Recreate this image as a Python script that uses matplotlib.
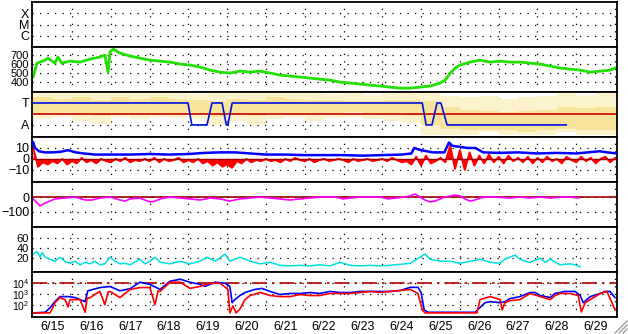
"""Stacked space weather summary, 6/15 - 6/29."""

import matplotlib

matplotlib.use("Agg")
import matplotlib.pyplot as plt
import numpy as np
from matplotlib.lines import Line2D
from matplotlib.ticker import FixedLocator, NullLocator

plt.rcParams["font.family"] = ["Liberation Sans", "DejaVu Sans"]
plt.rcParams["font.size"] = 9

# --- data (time in days since 6/15 00:00) ---------------------------------
day_labels = ["6/15", "6/16", "6/17", "6/18", "6/19", "6/20", "6/21", "6/22",
              "6/23", "6/24", "6/25", "6/26", "6/27", "6/28", "6/29"]

flare_labels = ["X", "M", "C"]

speed_t = [0.0, 0.10, 0.31, 0.38, 0.56, 0.64, 0.74, 0.95, 1.21, 1.47, 1.72,
           1.85, 1.93, 1.98, 2.06, 2.24, 2.50, 2.75, 3.01, 3.27, 3.53, 3.79,
           4.04, 4.30, 4.56, 4.82, 5.07, 5.33, 5.59, 5.85, 6.11, 6.36, 6.62,
           6.88, 7.14, 7.39, 7.65, 7.91, 8.17, 8.43, 8.68, 8.94, 9.20, 9.46,
           9.72, 9.97, 10.23, 10.49, 10.62, 10.75, 10.88, 11.00, 11.26, 11.52,
           11.78, 12.04, 12.29, 12.55, 12.81, 13.07, 13.33, 13.58, 13.84,
           14.10, 14.36, 14.62, 14.87, 15.00]
speed = [456, 611, 644, 667, 611, 678, 611, 633, 622, 656, 678, 700, 511, 733,
         767, 722, 689, 667, 644, 633, 622, 600, 589, 567, 533, 511, 500, 522,
         511, 522, 500, 478, 467, 456, 444, 433, 422, 400, 389, 378, 367, 356,
         344, 333, 333, 344, 356, 389, 422, 500, 556, 589, 622, 644, 622, 633,
         622, 622, 611, 600, 578, 556, 544, 533, 511, 522, 533, 556]

# toward/away sector: scatter spread (outer) and dense core per half day
sector_edges = [0.0, 0.5, 1.0, 1.5, 2.0, 2.5, 3.0, 3.5, 4.0, 4.5, 5.0, 5.5,
                6.0, 6.5, 7.0, 7.5, 8.0, 8.5, 9.0, 9.5, 10.0, 10.5, 11.0,
                11.5, 12.0, 12.5, 13.0, 13.5, 14.0, 14.5, 15.05]
sector_lo = [-0.5, -0.3, -0.6, -0.9, -0.3, -0.5, -0.3, -0.4, -0.5, -1.0,
             -0.6, -1.0, -0.5, -0.3, -0.6, -0.4, -0.3, -0.5, -0.6, -0.8,
             -1.9, -1.9, -1.9, -1.6, -1.9, -1.9, -1.9, -1.6, -1.9, -1.9]
sector_hi = [1.9, 1.9, 1.9, 1.9, 1.9, 1.9, 1.9, 1.9, 1.8, 1.9, 1.9, 1.9,
             1.9, 1.9, 1.9, 1.8, 1.9, 1.7, 1.9, 1.9, 1.9, 1.6, 1.5, 1.6,
             1.4, 1.5, 1.6, 1.9, 1.7, 1.9]
sector_core_lo = [0.0, 0.1, 0.0, -0.2, 0.1, 0.0, 0.1, 0.0, 0.0, -0.3, 0.0,
                  -0.2, 0.1, 0.1, 0.0, 0.1, 0.2, 0.1, 0.0, -0.2, -1.0, -1.4,
                  -1.5, -1.5, -1.5, -1.6, -1.5, -1.4, -1.5, -1.5]
sector_core_hi = [1.5, 1.4, 1.5, 1.3, 1.5, 1.4, 1.5, 1.4, 1.3, 1.2, 1.4, 1.3,
                  1.5, 1.4, 1.3, 1.3, 1.2, 1.2, 1.3, 1.3, 1.2, 0.6, 0.4, 0.3,
                  0.2, 0.3, 0.4, 0.6, 0.5, 0.6]
sector_t = [0.0, 3.99, 4.09, 4.48, 4.61, 4.87, 4.98, 5.02, 5.13, 10.03, 10.13,
            10.28, 10.41, 10.51, 10.67, 13.74]
sector = [1, 1, -1, -1, 1, 1, -1, -1, 1, 1, -1, -1, 1, 1, -1, -1]

bt_t = [0.0, 0.05, 0.15, 0.3, 0.5, 0.7, 0.9, 1.1, 1.3, 1.6, 2.0, 2.5, 3.0,
        3.5, 4.0, 4.4, 4.8, 5.2, 5.6, 6.0, 6.5, 7.0, 7.5, 8.0, 8.5, 9.0, 9.5,
        9.75, 9.82, 10.0, 10.3, 10.6, 10.72, 10.8, 11.0, 11.2, 11.4, 11.6,
        12.0, 12.5, 13.0, 13.5, 14.0, 14.3, 14.6, 14.8, 15.05]
bt = [15, 10, 7, 6, 6, 6.5, 8, 6, 5, 4, 4, 4, 4.5, 4, 4.5, 5.5, 6, 6, 5, 4,
      4, 3.5, 3.5, 3.5, 3, 3.5, 4, 5, 10, 8, 6, 6, 15, 12, 11, 10, 10, 6, 5.5,
      6, 5, 5.5, 5, 6, 7, 6, 5]

# Bz every 3 hours
bz = [10, -7, -3, -5, -2, -4, 0, -5,
      -2, -4, 1, -3, -1, -4, 0, -2,
      -3, 0, -2, 1, -3, -1, -2, 0,
      -2, 1, -3, 0, -2, -1, 1, -3,
      -1, -3, 0, -4, -2, -6, -3, -7,
      -5, -8, -2, -4, 0, -3, -1, -2,
      0, -2, -1, -3, 0, -2, 1, -1,
      -2, 0, -3, -1, 0, -2, -1, 0,
      -1, -3, 0, -2, -1, 0, -2, -1,
      0, -2, 1, -1, -3, -2, -5, 2,
      -6, 3, -4, -2, 1, -3, 12, -9,
      8, -10, 6, -6, 3, -4, 4, -3,
      2, -4, 3, -2, 1, -3, 2, -4,
      1, -3, 2, -2, 0, -4, 2, -1,
      -3, 2, -2, 1, -4, 0, 2, -3,
      1]
bz_t = np.arange(len(bz)) / 8

dst_t = [0.0, 0.18, 0.31, 0.43, 0.56, 0.82, 1.08, 1.34, 1.52, 1.72, 1.98,
         2.24, 2.37, 2.50, 2.75, 3.01, 3.14, 3.27, 3.53, 3.79, 4.04, 4.30,
         4.56, 4.82, 5.07, 5.33, 5.59, 5.85, 6.11, 6.36, 6.62, 6.88, 7.14,
         7.39, 7.79, 7.99, 8.17, 8.43, 8.94, 9.15, 9.33, 9.59, 9.72, 9.84,
         9.97, 10.10, 10.23, 10.36, 10.49, 10.62, 10.75, 10.88, 11.00, 11.13,
         11.26, 11.39, 11.52, 11.65, 11.91, 12.29, 12.55, 12.81, 13.07, 13.33,
         13.58, 13.84, 14.05]
dst = [-13, -60, -40, -27, -13, -7, 0, -20, -20, -7, 0, -20, -27, -13, -7,
       -33, -27, -13, 0, -7, -13, -20, -7, -13, -27, -13, -7, 0, -7, -13, -20,
       -13, -7, 0, 0, -13, -7, 0, 0, -13, -7, 0, 7, 20, 0, -20, -33, -27, -13,
       0, 7, 13, 7, -13, -27, -20, -7, 0, 0, -7, 0, -7, 0, -7, 0, 0, -7]

dens_t = [0.0, 0.10, 0.18, 0.23, 0.31, 0.43, 0.56, 0.69, 0.82, 0.95, 1.08,
          1.21, 1.34, 1.47, 1.59, 1.72, 1.85, 1.98, 2.11, 2.24, 2.37, 2.50,
          2.75, 2.88, 3.01, 3.14, 3.27, 3.53, 3.79, 4.04, 4.30, 4.48, 4.69,
          4.95, 5.07, 5.33, 5.59, 5.85, 6.11, 6.36, 6.62, 6.88, 7.14, 7.39,
          7.65, 7.91, 8.17, 8.43, 8.68, 8.94, 9.20, 9.46, 9.72, 9.97, 10.10,
          10.23, 10.49, 10.75, 11.00, 11.26, 11.52, 11.78, 12.04, 12.16,
          12.29, 12.42, 12.55, 12.68, 12.81, 13.07, 13.20, 13.33, 13.58,
          13.84, 13.97, 14.10]
dens = [28, 33, 22, 31, 22, 18, 14, 22, 14, 10, 14, 7, 12, 9, 14, 7, 9, 22,
        14, 9, 10, 7, 18, 9, 14, 22, 12, 9, 14, 9, 14, 22, 14, 28, 14, 22, 14,
        9, 12, 6, 5, 6, 5, 7, 5, 12, 6, 5, 6, 5, 6, 8, 10, 22, 28, 18, 14, 14,
        10, 14, 18, 12, 10, 18, 22, 26, 18, 14, 12, 20, 12, 18, 7, 9, 7, 3]

# >2 MeV electron flux, log10(pfu), two satellites
e1_t = [0.0, 0.31, 0.43, 0.56, 0.69, 0.90, 1.08, 1.21, 1.34, 1.41, 1.72, 1.98,
        2.24, 2.50, 2.75, 3.01, 3.27, 3.53, 3.79, 4.04, 4.30, 4.43, 4.69,
        4.95, 5.07, 5.13, 5.20, 5.33, 5.46, 5.72, 5.90, 6.11, 6.36, 6.62,
        6.88, 7.14, 7.39, 7.65, 7.91, 8.17, 8.43, 8.68, 8.94, 9.20, 9.46,
        9.72, 9.92, 10.00, 10.08, 10.18, 11.00, 11.39, 11.65, 11.78, 12.04,
        12.16, 12.29, 12.55, 12.81, 12.94, 13.07, 13.33, 13.45, 13.58, 13.71,
        13.97, 14.10, 14.18, 14.36, 14.62, 14.74, 14.87, 15.00]
e1_log = [1.24, 1.3, 1.7, 2.29, 2.76, 2.76, 2.67, 2.48, 2.29, 3.3, 3.6, 3.7,
          3.3, 3.5, 4.1, 3.9, 3.43, 4.19, 4.38, 4.10, 3.90, 3.71, 4.10, 4.0,
          3.71, 2.19, 2.48, 2.86, 3.14, 3.43, 3.52, 3.24, 2.95, 3.05, 3.05,
          3.14, 3.05, 3.24, 3.14, 3.14, 3.24, 3.24, 3.24, 3.24, 3.33, 3.62,
          3.62, 3.14, 1.52, 1.3, 1.3, 1.3, 2.19, 2.29, 2.19, 2.29, 2.57, 2.76,
          3.14, 3.14, 2.86, 2.67, 3.05, 3.14, 3.24, 3.24, 2.86, 2.19, 2.76,
          3.05, 3.24, 3.24, 2.67]
e2_t = [0.0, 0.43, 0.49, 0.56, 0.69, 0.82, 0.90, 0.95, 1.21, 1.34, 1.39, 1.47,
        1.72, 1.85, 1.93, 1.98, 2.24, 2.50, 2.75, 3.01, 3.14, 3.22, 3.27,
        3.53, 3.79, 4.04, 4.30, 4.56, 4.82, 5.02, 5.07, 5.15, 5.23, 5.33,
        5.46, 5.59, 5.85, 6.11, 6.36, 6.62, 6.88, 7.14, 7.39, 7.65, 7.91,
        8.17, 8.43, 8.68, 8.94, 9.20, 9.46, 9.72, 9.92, 10.03, 10.10, 11.44,
        11.52, 11.78, 12.04, 12.09, 12.16, 12.29, 12.55, 12.81, 13.07, 13.33,
        13.45, 13.58, 13.84, 14.05, 14.13, 14.23, 14.36, 14.62, 14.79, 14.92,
        15.00]
e2_log = [1.24, 1.24, 1.6, 2.19, 2.67, 2.48, 1.8, 2.48, 2.48, 1.3, 2.6, 2.67,
          3.24, 2.0, 3.2, 3.24, 2.67, 3.43, 3.6, 3.6, 2.0, 3.3, 3.24, 4.1, 4.1,
          3.52, 3.71, 4.0, 4.0, 3.43, 1.24, 1.9, 1.24, 1.6, 2.48, 2.86, 3.14,
          2.86, 2.76, 2.76, 2.95, 2.86, 2.86, 3.05, 3.05, 3.05, 3.14, 3.24,
          3.14, 3.24, 3.33, 3.43, 3.05, 1.52, 1.24, 1.24, 2.48, 2.76, 2.48,
          1.52, 2.19, 2.38, 2.48, 3.05, 2.76, 2.48, 2.86, 3.05, 3.05, 2.86,
          1.33, 2.19, 2.48, 3.05, 3.24, 2.19, 1.52]
e_alert = 1e4

# --- figure ---------------------------------------------------------------
fig, axes = plt.subplots(7, 1, sharex=True, figsize=(6.28, 3.34), dpi=100)
fig.subplots_adjust(left=32 / 628, right=617 / 628, top=1 - 2 / 334,
                    bottom=17 / 334, hspace=0)
ax_f, ax_v, ax_s, ax_b, ax_d, ax_n, ax_e = axes

dotted = dict(color="black", linestyle=(0, (1, 5)), linewidth=0.9)
for ax in axes:
    ax.set_axisbelow(True)
    ax.xaxis.set_major_locator(FixedLocator(np.arange(15) + 0.5))
    ax.xaxis.set_minor_locator(FixedLocator(np.arange(1, 16)))
    ax.xaxis.grid(True, which="minor", **dotted)
    ax.yaxis.grid(True, which="major", **dotted)
    ax.tick_params(which="both", length=0, pad=2, labelsize=9)
    for sp in ax.spines.values():
        sp.set_linewidth(1.3)
ax_e.set_xlim(-0.03, 15.05)
ax_e.set_xticklabels(day_labels)
ax_e.tick_params(axis="x", pad=3)

# flares (no events)
ax_f.set_ylim(0, 4)
ax_f.set_yticks([3, 2, 1], flare_labels)

# solar wind speed
ax_v.plot(speed_t, speed, color="#22e000", lw=2)
ax_v.set_ylim(290, 790)
ax_v.set_yticks([700, 600, 500, 400])
ax_v.tick_params(axis="y", labelsize=8)

# sector
ax_s.stairs(sector_hi, sector_edges, baseline=sector_lo, fill=True,
            color="#fcf2cc", lw=0)
ax_s.stairs(sector_core_hi, sector_edges, baseline=sector_core_lo, fill=True,
            color="#f8e39a", lw=0)
ax_s.axhline(0, color="#c80000", lw=1.2)
ax_s.plot(sector_t, sector, color="#0010e0", lw=1.2)
ax_s.set_ylim(-2.1, 2.0)
ax_s.set_yticks([1, -1], ["T", "A"])

# IMF Bt / Bz
ax_b.fill_between(bz_t, bz, 0, color="#ff0000", lw=0, zorder=2)
ax_b.plot(bz_t, bz, color="#ff0000", lw=1.4, zorder=2)
ax_b.plot(bt_t, bt, color="#0000ff", lw=1.8, zorder=3)
ax_b.axhline(0, color="#a00000", lw=1, zorder=4)
ax_b.set_ylim(-21, 20)
ax_b.set_yticks([10, 0, -10])

# Dst
ax_d.axhline(0, color="#a00000", lw=1.2)
ax_d.plot(dst_t, dst, color="#ff00ff", lw=1.2)
ax_d.set_ylim(-200, 100)
ax_d.set_yticks([0, -100])

# density
ax_n.plot(dens_t, dens, color="#00e0e0", lw=1.1)
ax_n.set_ylim(-7, 81)
ax_n.set_yticks([60, 40, 20])
ax_n.tick_params(axis="y", labelsize=8)

# electrons
ax_e.set_yscale("log")
ax_e.axhline(e_alert, color="#b00000", lw=1.2, linestyle=(0, (9, 3, 1.5, 3)))
ax_e.plot(e1_t, 10 ** np.array(e1_log), color="#0000ff", lw=1.2)
ax_e.plot(e2_t, 10 ** np.array(e2_log), color="#ff0000", lw=1.2)
ax_e.set_ylim(10 ** 0.86, 10 ** 5.05)
ax_e.yaxis.set_major_locator(FixedLocator([1e2, 1e3, 1e4]))
ax_e.yaxis.set_minor_locator(NullLocator())
ax_e.tick_params(axis="y", labelsize=7.5)

# window resize grip in the corner
for off in (4, 8, 12):
    fig.add_artist(Line2D([(627 - off) / 628, 627 / 628],
                          [1 / 334, (1 + off) / 334],
                          transform=fig.transFigure, color="#a0a0a0", lw=1))

fig.savefig("out.png", dpi=100)
